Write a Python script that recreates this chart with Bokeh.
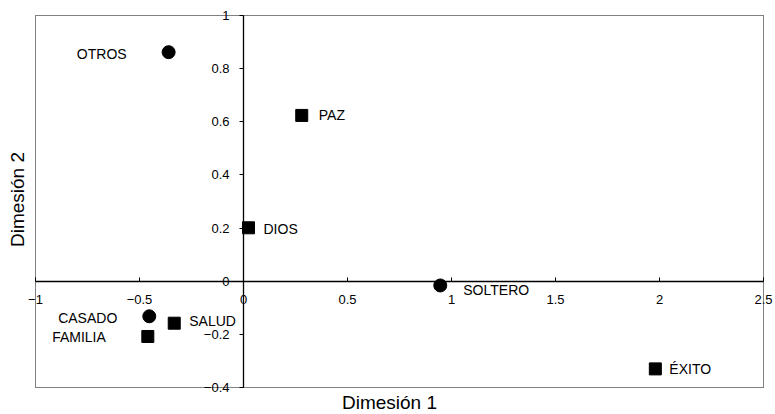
import math
from bokeh.plotting import figure
from bokeh.models import Range1d, FixedTicker, ColumnDataSource, Label
from bokeh.embed import file_html
from bokeh.resources import INLINE
from bokeh.core.properties import value

# ---- data ----
circle_names = ["OTROS", "SOLTERO", "CASADO"]
circle_x = [-0.36, 0.946, -0.453]
circle_y = [0.862, -0.016, -0.132]

square_names = ["PAZ", "DIOS", "SALUD", "FAMILIA", "ÉXITO"]
square_x = [0.28, 0.024, -0.333, -0.46, 1.98]
square_y = [0.624, 0.201, -0.158, -0.208, -0.33]

x_ticks = [-1, -0.5, 0, 0.5, 1, 1.5, 2, 2.5]
y_ticks = [-0.4, -0.2, 0, 0.2, 0.4, 0.6, 0.8, 1]

x_title = "Dimesión 1"
y_title = "Dimesión 2"

# ---- label styling (offsets in screen pixels, +y is downward) ----
circle_dx = [-42, 23, -32]
circle_dy = [2, 5, 2]
circle_align = ["right", "left", "right"]
square_dx = [17, 15, 15, -42, 14]
square_dy = [0, 1, -2, 1, 0]
square_align = ["left", "left", "left", "right", "left"]

# ---- layout: pixel positions of the dotted plot border on the canvas ----
W, H = 775, 414
BL, BR, BT, BB = 35, 763, 15, 387
x0, x1 = x_ticks[0], x_ticks[-1]
y0, y1 = y_ticks[0], y_ticks[-1]
kx = (BR - BL) / (x1 - x0)
ky = (BB - BT) / (y1 - y0)

def px_x(px):
    return x0 + (px - BL) / kx

def px_y(py):
    return y1 - (py - BT) / ky

FONT = "Liberation Sans"

p = figure(width=W, height=H, output_backend="svg", toolbar_location=None,
           x_range=Range1d(px_x(0), px_x(W)), y_range=Range1d(px_y(H), px_y(0)),
           min_border=0, min_border_left=0, min_border_right=0,
           min_border_top=0, min_border_bottom=0)

p.background_fill_color = "white"
p.border_fill_color = "white"
p.outline_line_color = None
p.xgrid.visible = False
p.ygrid.visible = False

# dotted border around the data area
p.quad(left=[x0], right=[x1], bottom=[y0], top=[y1], fill_color=None,
       line_color="black", line_dash="1 1", line_width=1)

# axes crossing at the origin
p.xaxis.fixed_location = 0
p.yaxis.fixed_location = 0
p.xaxis.bounds = (x0, x1)
p.yaxis.bounds = (y0, y1)
p.xaxis.ticker = FixedTicker(ticks=x_ticks)
p.yaxis.ticker = FixedTicker(ticks=y_ticks)
for ax in (p.xaxis, p.yaxis):
    ax.axis_line_color = "black"
    ax.axis_line_width = 1.3
    ax.major_tick_line_color = "black"
    ax.minor_tick_line_color = None
    ax.major_label_text_font = FONT
    ax.major_label_text_font_size = "13px"
    ax.major_label_text_color = "black"
p.xaxis.major_tick_in = 4
p.xaxis.major_tick_out = 0
p.xaxis.major_label_standoff = 14
p.yaxis.major_tick_in = 0
p.yaxis.major_tick_out = 4
p.yaxis.major_label_standoff = 10

# axis titles
p.add_layout(Label(x=px_x(389), y=px_y(402), text=x_title, text_align="center",
                   text_baseline="middle", text_font=FONT,
                   text_font_size="19px", text_color="black"))
p.add_layout(Label(x=px_x(17), y=px_y(199), text=y_title, text_align="center",
                   text_baseline="middle", angle=math.pi / 2, text_font=FONT,
                   text_font_size="19px", text_color="black"))

csrc = ColumnDataSource(dict(x=circle_x, y=circle_y, name=circle_names,
                             dx=circle_dx, dy=circle_dy, align=circle_align))
ssrc = ColumnDataSource(dict(x=square_x, y=square_y, name=square_names,
                             dx=square_dx, dy=square_dy, align=square_align))

p.scatter("x", "y", source=csrc, marker="circle", size=13,
          fill_color="black", line_color="black")
p.scatter("x", "y", source=ssrc, marker="square", size=12,
          fill_color="black", line_color="black")

for src in (csrc, ssrc):
    p.text("x", "y", text="name", source=src, x_offset="dx", y_offset="dy",
           text_align="align", text_baseline="middle",
           text_font=value(FONT), text_font_size="14px", text_color="black")

open("out.html", "w").write(file_html(p, INLINE))
